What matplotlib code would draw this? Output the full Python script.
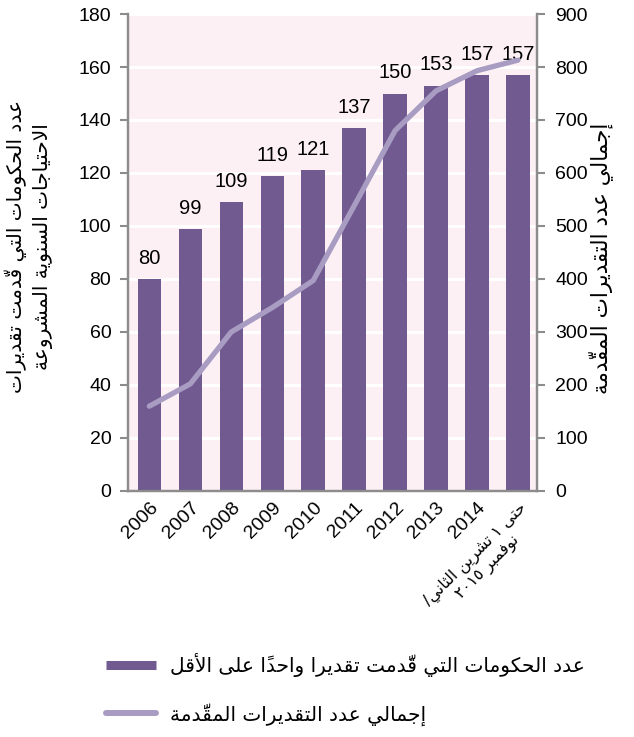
import numpy as np
import matplotlib
matplotlib.use("Agg")
import matplotlib.pyplot as plt
from matplotlib.lines import Line2D

#---------------- data -----------------#
years = ["2006", "2007", "2008", "2009", "2010", "2011", "2012", "2013", "2014",
         "حتى ١ تشرين الثاني/\nنوفمبر ٢٠١٥"]
governments = [80, 99, 109, 119, 121, 137, 150, 153, 157, 157]
total_estimates = [160, 202, 300, 346, 397, 538, 680, 755, 793, 813]

left_label = "عدد الحكومات التي قدّمت تقديرات\nالاحتياجات السنوية المشروعة"
right_label = "إجمالي عدد التقديرات المقدّمة"
legend_bar = "عدد الحكومات التي قدَّمت تقديرا واحداً على الأقل"
legend_line = "إجمالي عدد التقديرات المقدَّمة"

#---------------- arabic shaping (no reshaper available) -----------------#
ISO = {'ء': 0xFE80, 'آ': 0xFE81, 'أ': 0xFE83, 'ؤ': 0xFE85, 'إ': 0xFE87, 'ئ': 0xFE89,
       'ا': 0xFE8D, 'ب': 0xFE8F, 'ة': 0xFE93, 'ت': 0xFE95, 'ث': 0xFE99, 'ج': 0xFE9D,
       'ح': 0xFEA1, 'خ': 0xFEA5, 'د': 0xFEA9, 'ذ': 0xFEAB, 'ر': 0xFEAD, 'ز': 0xFEAF,
       'س': 0xFEB1, 'ش': 0xFEB5, 'ص': 0xFEB9, 'ض': 0xFEBD, 'ط': 0xFEC1, 'ظ': 0xFEC5,
       'ع': 0xFEC9, 'غ': 0xFECD, 'ف': 0xFED1, 'ق': 0xFED5, 'ك': 0xFED9, 'ل': 0xFEDD,
       'م': 0xFEE1, 'ن': 0xFEE5, 'ه': 0xFEE9, 'و': 0xFEED, 'ى': 0xFEEF, 'ي': 0xFEF1}
RIGHT_ONLY = set('ءآأؤإاةدذرزوى')
LAM_ALEF = {'آ': 0xFEF5, 'أ': 0xFEF7, 'إ': 0xFEF9, 'ا': 0xFEFB}


def shape_line(text):
    items = []
    for ch in text:
        if 0x064B <= ord(ch) <= 0x0652 and items:
            items[-1][1] += ch
        else:
            items.append([ch, ''])
    merged = []
    for b, m in items:
        if merged and merged[-1][0] == 'ل' and b in LAM_ALEF:
            merged[-1] = ['LA' + b, merged[-1][1] + m]
        else:
            merged.append([b, m])

    def joins(b):
        return (b in ISO and b != 'ء') or b.startswith('LA')

    def dual(b):
        return b in ISO and b not in RIGHT_ONLY

    out = []
    for i, (b, m) in enumerate(merged):
        prev = merged[i - 1][0] if i > 0 else None
        nxt = merged[i + 1][0] if i + 1 < len(merged) else None
        jp = prev is not None and dual(prev) and joins(b)
        jn = nxt is not None and dual(b) and joins(nxt)
        if b.startswith('LA'):
            g = chr(LAM_ALEF[b[2:]] + (1 if jp else 0))
        elif b in ISO:
            if b in RIGHT_ONLY:
                g = chr(ISO[b] + (1 if jp else 0))
            else:
                g = chr(ISO[b] + (3 if jp and jn else 1 if jp else 2 if jn else 0))
        else:
            g = b
        out.append(g + m)
    tokens = []
    for c in out:
        if c.isdigit() and tokens and tokens[-1].isdigit():
            tokens[-1] += c
        else:
            tokens.append(c)
    return ''.join(reversed(tokens))


def ar(text):
    return "\n".join(shape_line(t) for t in text.split("\n"))


#---------------- plot -----------------#
bar_color = "#705a8f"
line_color = "#a99cc3"
grey = "#8c8c8c"
plt.rcParams['font.family'] = ['Liberation Sans', 'DejaVu Sans']

fig = plt.figure(figsize=(6.34, 7.37), dpi=100)
ax = fig.add_axes([0.2019, 0.3338, 0.6455, 0.6472])
ax2 = ax.twinx()

x = np.arange(len(years))
ax.set_facecolor("#fdf0f4")
ax.bar(x, governments, width=0.57, color=bar_color, zorder=3)
for xi, v in zip(x, governments):
    ax.annotate(str(v), (xi, v), xytext=(0, 8), textcoords="offset points",
                ha="center", va="bottom", fontsize=14.5, zorder=5)

ax2.plot(x, total_estimates, color=line_color, lw=3.8, solid_capstyle="round", zorder=4)

ax.set_ylim(0, 180)
ax.set_yticks(np.arange(0, 181, 20))
ax2.set_ylim(0, 900)
ax2.set_yticks(np.arange(0, 901, 100))
ax.set_xlim(-0.52, 9.47)
ax.grid(axis="y", color="white", lw=2.2, zorder=1)
ax.set_axisbelow(True)

ax.set_xticks(x)
labels = [ar(y) if not y.isdigit() else y for y in years]
ax.set_xticklabels(labels, rotation=45, ha="right", rotation_mode="anchor", fontsize=14)
last = ax.get_xticklabels()[-1]
last.set_fontfamily("DejaVu Sans")
last.set_fontsize(11.5)
last.set_multialignment("center")
ax.tick_params(axis="x", length=0, pad=6)
ax.tick_params(axis="y", colors=grey, labelcolor="black", labelsize=14, length=6, width=1.5, pad=6)
ax2.tick_params(axis="y", colors=grey, labelcolor="black", labelsize=14, length=6, width=1.5, pad=7)

for a in (ax, ax2):
    a.spines["top"].set_visible(False)
    for s in ("left", "right", "bottom"):
        a.spines[s].set_color(grey)
        a.spines[s].set_linewidth(1.6)

fig.text(0.045, 0.665, ar(left_label), rotation=90, ha="center", va="center",
         family="DejaVu Sans", fontsize=14.5, multialignment="center", linespacing=1.4)
fig.text(0.948, 0.65, ar(right_label), rotation=90, ha="center", va="center",
         family="DejaVu Sans", fontsize=15.5)

handles = [Line2D([], [], color=bar_color, lw=6.5, solid_capstyle="butt"),
           Line2D([], [], color=line_color, lw=4.3, solid_capstyle="round")]
leg = fig.legend(handles, [ar(legend_bar), ar(legend_line)], loc="center",
                 bbox_to_anchor=(0.545, 0.065), frameon=False,
                 prop={"family": "DejaVu Sans", "size": 14.5},
                 handlelength=2.5, labelspacing=1.3, handletextpad=0.7)

fig.savefig("out.png", dpi=100)
